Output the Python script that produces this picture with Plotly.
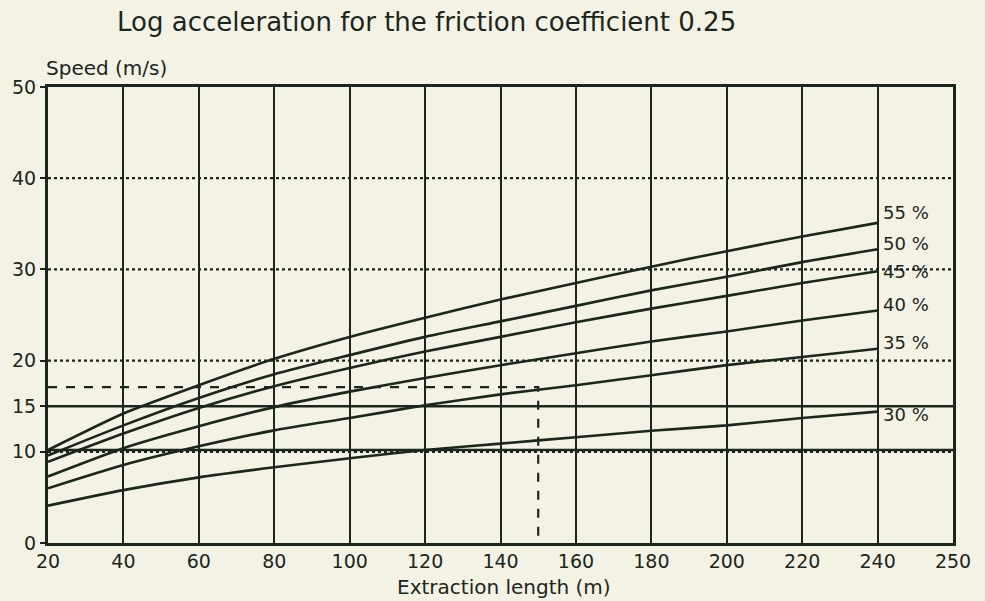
import plotly.graph_objects as go

# ---- data ----
extraction_length = [20, 40, 60, 80, 100, 120, 140, 160, 180, 200, 220, 240]
speed_55 = [10.2, 14.2, 17.3, 20.2, 22.6, 24.7, 26.7, 28.5, 30.3, 32.0, 33.6, 35.1]
speed_50 = [9.6, 12.9, 15.9, 18.5, 20.6, 22.6, 24.3, 26.0, 27.7, 29.2, 30.8, 32.2]
speed_45 = [8.9, 12.0, 14.8, 17.2, 19.2, 21.0, 22.6, 24.2, 25.7, 27.1, 28.5, 29.8]
speed_40 = [7.3, 10.4, 12.8, 14.9, 16.6, 18.1, 19.5, 20.8, 22.1, 23.2, 24.4, 25.5]
speed_35 = [6.0, 8.55, 10.6, 12.35, 13.7, 15.1, 16.3, 17.3, 18.4, 19.5, 20.4, 21.3]
speed_30 = [4.1, 5.8, 7.2, 8.3, 9.3, 10.2, 10.9, 11.6, 12.3, 12.9, 13.7, 14.4]
series_labels = ["55 %", "50 %", "45 %", "40 %", "35 %", "30 %"]
series_values = [speed_55, speed_50, speed_45, speed_40, speed_35, speed_30]

x_tick_vals = [20, 40, 60, 80, 100, 120, 140, 160, 180, 200, 220, 240, 260]
x_tick_text = ["20", "40", "60", "80", "100", "120", "140", "160", "180", "200", "220", "240", "250"]
y_tick_vals = [0, 10, 15, 20, 30, 40, 50]
y_tick_text = ["0", "10", "15", "20", "30", "40", "50"]
y_dotted_grid = [10, 20, 30, 40]
y_solid_lines = [10.2, 15]
marker_length = 150
marker_speed = 17.1

# ---- style ----
INK = "#1b261c"
BG = "#f4f2e4"
FONT = "DejaVu Sans"
label_yshift = [10, 6, 0, 6, 6, -3]

fig = go.Figure()

for vals in series_values:
    fig.add_trace(go.Scatter(
        x=extraction_length, y=vals, mode="lines",
        line=dict(color=INK, width=2.6, shape="spline", smoothing=0.6),
        showlegend=False, hoverinfo="skip"))

# dashed reading line
fig.add_trace(go.Scatter(
    x=[extraction_length[0], marker_length, marker_length],
    y=[marker_speed, marker_speed, 0],
    mode="lines", line=dict(color=INK, width=2.2, dash="dash"),
    showlegend=False, hoverinfo="skip"))

shapes = []
for yv in y_dotted_grid:
    shapes.append(dict(type="line", xref="paper", x0=0, x1=1, yref="y", y0=yv, y1=yv,
                       line=dict(color=INK, width=2.2, dash="dot"), layer="below"))
for yv in y_solid_lines:
    shapes.append(dict(type="line", xref="paper", x0=0, x1=1, yref="y", y0=yv, y1=yv,
                       line=dict(color=INK, width=2.5), layer="below"))

annotations = []
for lab, vals, ys in zip(series_labels, series_values, label_yshift):
    annotations.append(dict(x=extraction_length[-1], y=vals[-1], text=lab, showarrow=False,
                            xanchor="left", yanchor="middle", xshift=3, yshift=ys,
                            font=dict(family=FONT, size=18, color=INK)))

annotations.append(dict(xref="paper", yref="paper", x=0.074, y=1.1425,
                        text="Log acceleration for the friction coefficient 0.25",
                        showarrow=False, xanchor="left", yanchor="middle",
                        font=dict(family=FONT, size=26, color=INK)))
annotations.append(dict(xref="paper", yref="paper", x=-0.004, y=1.042,
                        text="Speed (m/s)", showarrow=False, xanchor="left", yanchor="middle",
                        font=dict(family=FONT, size=20, color=INK)))
annotations.append(dict(xref="paper", yref="paper", x=0.504, y=-0.097,
                        text="Extraction length (m)", showarrow=False,
                        xanchor="center", yanchor="middle",
                        font=dict(family=FONT, size=20, color=INK)))

fig.update_layout(
    width=985, height=601,
    margin=dict(l=44, r=32, t=87, b=58),
    paper_bgcolor=BG, plot_bgcolor=BG,
    font=dict(family=FONT, size=19, color=INK),
    shapes=shapes, annotations=annotations,
    xaxis=dict(range=[20, 260], tickvals=x_tick_vals, ticktext=x_tick_text,
               showgrid=True, gridcolor=INK, gridwidth=2,
               showline=True, linecolor=INK, linewidth=3, mirror=True,
               ticks="", zeroline=False, ticklabelstandoff=-1,
               tickfont=dict(family=FONT, size=19, color=INK)),
    yaxis=dict(range=[0, 50], tickvals=y_tick_vals, ticktext=y_tick_text,
               showgrid=False,
               showline=True, linecolor=INK, linewidth=3, mirror=True,
               ticks="outside", ticklen=5, tickwidth=2, tickcolor=INK,
               zeroline=False, ticklabelstandoff=0,
               tickfont=dict(family=FONT, size=19, color=INK)),
)

fig.write_html("out.html")
